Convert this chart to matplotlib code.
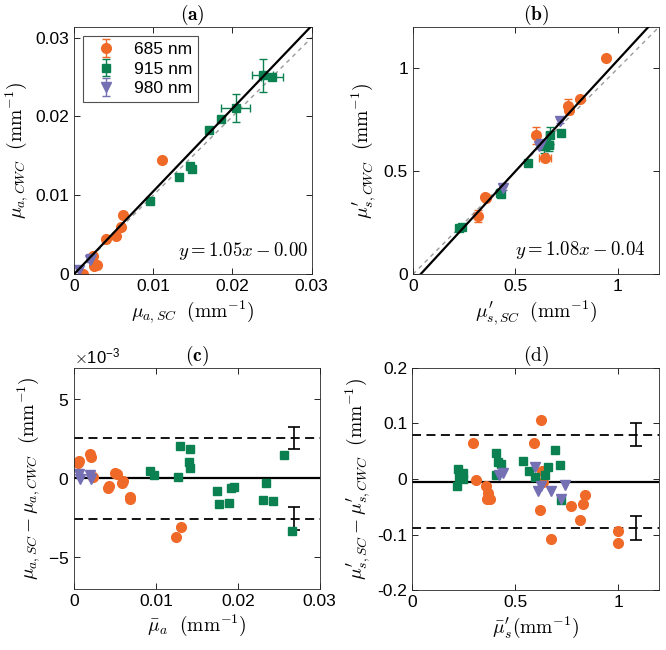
import numpy as np
import matplotlib
matplotlib.use("Agg")
import matplotlib.pyplot as plt
from matplotlib.ticker import ScalarFormatter

plt.rcParams['font.family'] = ['Liberation Sans', 'DejaVu Sans']
plt.rcParams['mathtext.fontset'] = 'cm'
plt.rcParams['font.size'] = 12.5

C_OR = '#EF6A28'
C_GR = '#0B8050'
C_PU = '#7570B3'

# ---- panel (a): absorption, CWC vs SC ----
a_or_x = [0.00109, 0.00244, 0.00256, 0.00294, 0.00403, 0.00529, 0.00588, 0.00622, 0.01105]
a_or_y = [0.00000, 0.00232, 0.00105, 0.00122, 0.00447, 0.00485, 0.00599, 0.00747, 0.01443]
a_gr_x = [0.00966, 0.01328, 0.01462, 0.01496, 0.01702, 0.01861, 0.02042, 0.02382, 0.02500]
a_gr_y = [0.00924, 0.01232, 0.01371, 0.01338, 0.01823, 0.01966, 0.02105, 0.02523, 0.02498]
a_gr_xe = [0.0002, 0.0003, 0.0002, 0.0002, 0.0001, 0.0002, 0.0018, 0.0013, 0.0014]
a_gr_ye = [0.0002, 0.0002, 0.0002, 0.0002, 0.0003, 0.0002, 0.0018, 0.0021, 0.0002]
a_pu_x = [0.00067, 0.00200, 0.00215]
a_pu_y = [0.00059, 0.00177, 0.00190]

# ---- panel (b): reduced scattering, CWC vs SC ----
b_or_x = [0.944, 0.814, 0.759, 0.762, 0.602, 0.644, 0.351, 0.358, 0.316]
b_or_y = [1.049, 0.852, 0.820, 0.800, 0.675, 0.566, 0.377, 0.372, 0.283]
b_or_xe = [0.0, 0.0, 0.015, 0.015, 0.015, 0.030, 0.0, 0.0, 0.0]
b_or_ye = [0.0, 0.0, 0.030, 0.020, 0.040, 0.015, 0.0, 0.0, 0.030]
b_gr_x = [0.225, 0.240, 0.424, 0.430, 0.563, 0.667, 0.723, 0.640, 0.664]
b_gr_y = [0.223, 0.231, 0.397, 0.390, 0.540, 0.675, 0.686, 0.621, 0.629]
b_gr_xe = [0.0, 0.0, 0.0, 0.0, 0.0, 0.015, 0.0, 0.02, 0.02]
b_gr_ye = [0.0, 0.0, 0.0, 0.0, 0.0, 0.040, 0.0, 0.03, 0.03]
b_pu_x = [0.439, 0.615, 0.623, 0.718]
b_pu_y = [0.421, 0.624, 0.634, 0.743]

# ---- panel (c): Bland-Altman absorption ----
c_or_x = [0.00052, 0.00065, 0.00194, 0.00214, 0.00234, 0.00500, 0.00520, 0.00430, 0.00420,
          0.00590, 0.00605, 0.00680, 0.00685, 0.01240, 0.01310]
c_or_y = [0.95e-3, 1.10e-3, 1.52e-3, 1.37e-3, 0.06e-3, 0.36e-3, 0.25e-3, -0.49e-3, -0.63e-3,
          -0.27e-3, -0.17e-3, -1.16e-3, -1.33e-3, -3.70e-3, -3.06e-3]
c_gr_x = [0.00927, 0.00972, 0.01274, 0.01298, 0.01419, 0.01403, 0.01411, 0.01746, 0.01766,
          0.01899, 0.01919, 0.01948, 0.02306, 0.02339, 0.02427, 0.02560, 0.02661]
c_gr_y = [0.46e-3, 0.19e-3, 0.08e-3, 2.05e-3, 1.88e-3, 1.03e-3, 0.68e-3, -0.82e-3, -1.65e-3,
          -1.56e-3, -0.63e-3, -0.55e-3, -1.37e-3, -0.32e-3, -1.46e-3, 1.48e-3, -3.31e-3]
c_pu_x = [0.00060, 0.00073, 0.00194, 0.00214]
c_pu_y = [0.25e-3, -0.02e-3, 0.19e-3, -0.06e-3]
c_mean, c_upper, c_lower = 0.0, 2.57e-3, -2.55e-3
c_upper_ci = (1.88e-3, 3.27e-3)
c_lower_ci = (-3.29e-3, -1.81e-3)
c_ci_x = 0.0269

# ---- panel (d): Bland-Altman scattering ----
d_or_x = [0.293, 0.312, 0.356, 0.367, 0.361, 0.380, 0.624, 0.592, 0.629, 0.637, 0.618,
          0.673, 0.771, 0.813, 0.828, 0.837, 0.997, 0.997]
d_or_y = [0.065, -0.001, -0.0125, -0.025, -0.035, -0.036, 0.106, 0.064, 0.015, -0.006, -0.056,
          -0.107, -0.049, -0.073, -0.044, -0.028, -0.094, -0.115]
d_gr_x = [0.221, 0.218, 0.226, 0.246, 0.247, 0.408, 0.418, 0.429, 0.405, 0.540, 0.569,
          0.598, 0.659, 0.644, 0.693, 0.717, 0.720]
d_gr_y = [0.018, -0.0125, 0.0036, 0.010, 0.000, 0.046, 0.031, 0.027, 0.007, 0.033, 0.015,
          0.0036, 0.021, 0.008, 0.052, 0.025, -0.038]
d_pu_x = [0.421, 0.442, 0.598, 0.613, 0.626, 0.673, 0.722, 0.741]
d_pu_y = [0.007, 0.010, 0.021, -0.021, -0.012, -0.021, -0.035, -0.010]
d_mean, d_upper, d_lower = -0.005, 0.079, -0.088
d_upper_ci = (0.060, 0.100)
d_lower_ci = (-0.110, -0.067)
d_ci_x = 1.088

fig = plt.figure(figsize=(6.66, 6.5), dpi=100)
ax_a = fig.add_axes([0.111, 0.578, 0.357, 0.380])
ax_b = fig.add_axes([0.620, 0.578, 0.369, 0.380])
ax_c = fig.add_axes([0.111, 0.094, 0.369, 0.340])
ax_d = fig.add_axes([0.619, 0.092, 0.371, 0.342])


def style(ax):
    ax.tick_params(direction='in', top=True, right=True, length=4, width=0.6, labelsize=12.5)
    for s in ax.spines.values():
        s.set_linewidth(0.6)
        s.set_color('#262626')


def pts(ax, x, y, color, marker, ms, xe=None, ye=None):
    return ax.errorbar(x, y, xerr=xe, yerr=ye, fmt=marker, color=color, ms=ms,
                       mec=color, ecolor=color, elinewidth=1.0, capsize=3)


# (a)
pts(ax_a, a_or_x, a_or_y, C_OR, 'o', 7, ye=[0.0003] * len(a_or_x))
pts(ax_a, a_gr_x, a_gr_y, C_GR, 's', 5.5, xe=a_gr_xe, ye=a_gr_ye)
pts(ax_a, a_pu_x, a_pu_y, C_PU, 'v', 7.5, ye=[0.0002] * len(a_pu_x))
# legend proxies (vertical error bar only, as in the original)
handles = []
for col, mk, ms, lab in [(C_OR, 'o', 7, '685 nm'), (C_GR, 's', 5.5, '915 nm'),
                         (C_PU, 'v', 7.5, '980 nm')]:
    handles.append(ax_a.errorbar([np.nan], [np.nan], yerr=[1], fmt=mk, color=col, ms=ms,
                                 mec=col, ecolor=col, elinewidth=1.0, capsize=3, label=lab))
xx = np.array([0, 0.03])
ax_a.plot(xx, xx, '--', color='#9a9a9a', lw=1.0, dashes=(3, 3), zorder=1)
ax_a.plot(xx, 1.05 * xx - 0.0, color='k', lw=1.6, zorder=3)
ax_a.set_xlim(0, 0.03)
ax_a.set_ylim(0, 0.0313)
ax_a.set_xticks([0, 0.01, 0.02, 0.03])
ax_a.set_yticks([0, 0.01, 0.02, 0.03])
ax_a.set_xticklabels(['0', '0.01', '0.02', '0.03'])
ax_a.set_yticklabels(['0', '0.01', '0.02', '0.03'])
ax_a.text(0.0295, 0.0030, r'$y = 1.05x - 0.00$', ha='right', va='center', fontsize=13.5)
ax_a.set_xlabel(r'$\mu_{a,SC}\ \ (\mathrm{mm}^{-1})$', fontsize=14, labelpad=3)
ax_a.set_ylabel(r'$\mu_{a,CWC}\ \ (\mathrm{mm}^{-1})$', fontsize=14, labelpad=4)
ax_a.set_title(r'$\mathbf{(a)}$', fontsize=14, pad=5)
leg = ax_a.legend(handles=handles, loc='upper left', fontsize=12.5, frameon=True,
                  fancybox=False, edgecolor='#262626', borderpad=0.35, labelspacing=0.25,
                  handletextpad=0.6, handlelength=2.0, borderaxespad=0.5)
leg.get_frame().set_linewidth(0.8)
style(ax_a)

# (b)
pts(ax_b, b_or_x, b_or_y, C_OR, 'o', 7, xe=b_or_xe, ye=b_or_ye)
pts(ax_b, b_gr_x, b_gr_y, C_GR, 's', 5.5, xe=b_gr_xe, ye=b_gr_ye)
pts(ax_b, b_pu_x, b_pu_y, C_PU, 'v', 7.5, ye=[0.01] * len(b_pu_x))
xx = np.array([0, 1.2])
ax_b.plot(xx, xx, '--', color='#9a9a9a', lw=1.0, dashes=(3, 3), zorder=1)
ax_b.plot(xx, 1.08 * xx - 0.04, color='k', lw=1.6, zorder=3)
ax_b.set_xlim(0, 1.2)
ax_b.set_ylim(0, 1.2)
ax_b.set_xticks([0, 0.5, 1])
ax_b.set_yticks([0, 0.5, 1])
ax_b.set_xticklabels(['0', '0.5', '1'])
ax_b.set_yticklabels(['0', '0.5', '1'])
ax_b.text(1.137, 0.117, r'$y = 1.08x - 0.04$', ha='right', va='center', fontsize=13.5)
ax_b.set_xlabel(r"$\mu^{\prime}_{s,SC}\ \ (\mathrm{mm}^{-1})$", fontsize=14, labelpad=3)
ax_b.set_ylabel(r"$\mu^{\prime}_{s,CWC}\ \ (\mathrm{mm}^{-1})$", fontsize=14, labelpad=4)
ax_b.set_title(r'$\mathbf{(b)}$', fontsize=14, pad=5)
style(ax_b)


def limits(ax, mean, up, lo, ci_x, ci_up, ci_lo):
    ax.axhline(mean, color='k', lw=1.6, zorder=1)
    ax.axhline(up, color='k', lw=1.3, ls='--', dashes=(5, 3), zorder=1)
    ax.axhline(lo, color='k', lw=1.3, ls='--', dashes=(5, 3), zorder=1)
    for c in (ci_up, ci_lo):
        ax.errorbar([ci_x], [(c[0] + c[1]) / 2], yerr=[(c[1] - c[0]) / 2], fmt='none',
                    ecolor='k', elinewidth=1.2, capsize=4, capthick=1.2)


# (c)
limits(ax_c, c_mean, c_upper, c_lower, c_ci_x, c_upper_ci, c_lower_ci)
pts(ax_c, c_or_x, c_or_y, C_OR, 'o', 7)
pts(ax_c, c_gr_x, c_gr_y, C_GR, 's', 5.5)
pts(ax_c, c_pu_x, c_pu_y, C_PU, 'v', 7.5)
ax_c.set_xlim(0, 0.03)
ax_c.set_ylim(-7e-3, 7e-3)
ax_c.set_xticks([0, 0.01, 0.02, 0.03])
ax_c.set_xticklabels(['0', '0.01', '0.02', '0.03'])
ax_c.set_yticks([-5e-3, 0, 5e-3])
fmt = ScalarFormatter(useMathText=True)
fmt.set_powerlimits((-3, -3))
ax_c.yaxis.set_major_formatter(fmt)
ax_c.yaxis.get_offset_text().set_fontsize(12)
ax_c.set_xlabel(r'$\bar{\mu}_a\ \ (\mathrm{mm}^{-1})$', fontsize=14, labelpad=3)
ax_c.set_ylabel(r'$\mu_{a,SC} - \mu_{a,CWC}\ \ (\mathrm{mm}^{-1})$', fontsize=14, labelpad=4)
ax_c.set_title(r'$\mathbf{(c)}$', fontsize=14, pad=5)
style(ax_c)

# (d)
limits(ax_d, d_mean, d_upper, d_lower, d_ci_x, d_upper_ci, d_lower_ci)
pts(ax_d, d_or_x, d_or_y, C_OR, 'o', 7)
pts(ax_d, d_gr_x, d_gr_y, C_GR, 's', 5.5)
pts(ax_d, d_pu_x, d_pu_y, C_PU, 'v', 7.5)
ax_d.set_xlim(0, 1.2)
ax_d.set_ylim(-0.2, 0.2)
ax_d.set_xticks([0, 0.5, 1])
ax_d.set_xticklabels(['0', '0.5', '1'])
ax_d.set_yticks([-0.2, -0.1, 0, 0.1, 0.2])
ax_d.set_yticklabels(['-0.2', '-0.1', '0', '0.1', '0.2'])
ax_d.set_xlabel(r"$\bar{\mu}^{\prime}_s(\mathrm{mm}^{-1})$", fontsize=14, labelpad=3)
ax_d.set_ylabel(r"$\mu^{\prime}_{s,SC} - \mu^{\prime}_{s,CWC}\ \ (\mathrm{mm}^{-1})$",
                fontsize=14, labelpad=4)
ax_d.set_title(r'$\mathrm{(d)}$', fontsize=14, pad=5)
style(ax_d)

fig.savefig('out.png', dpi=100)
